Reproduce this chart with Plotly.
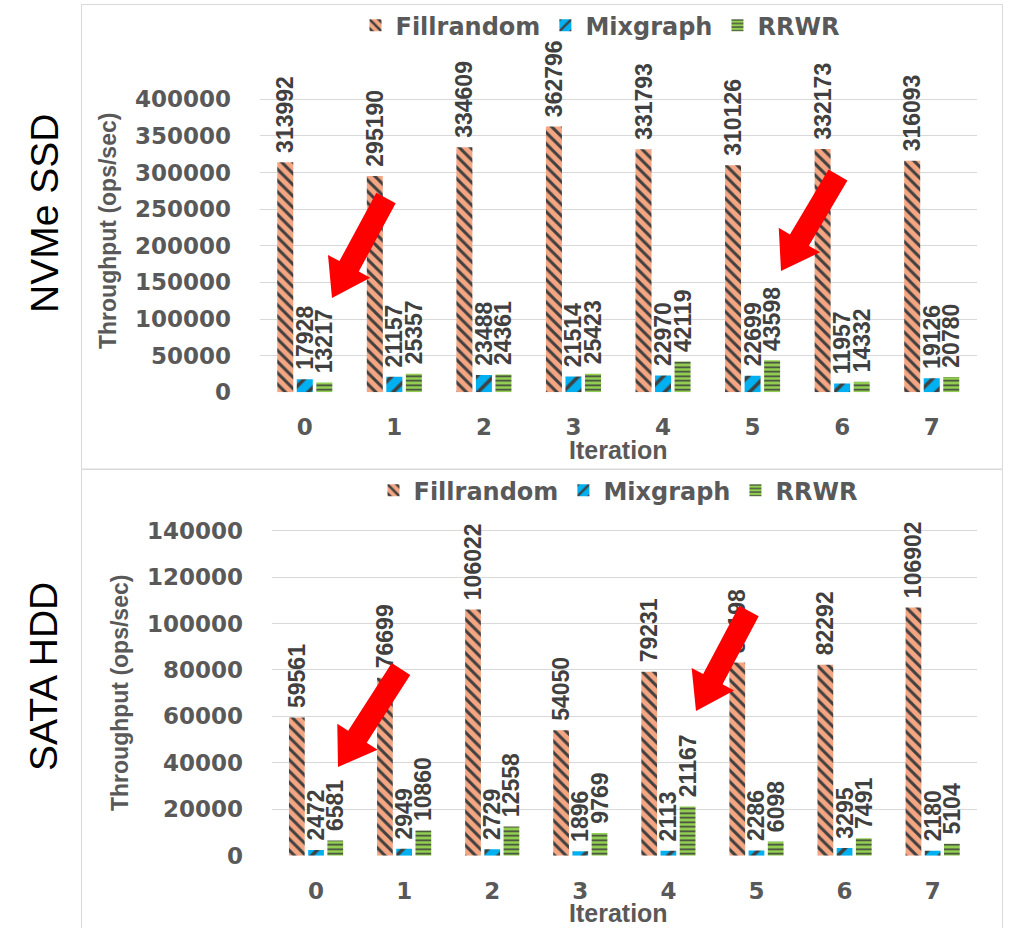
import math
import plotly.graph_objects as go

# ---------------- data ----------------
iterations = ["0", "1", "2", "3", "4", "5", "6", "7"]
series_names = ["Fillrandom", "Mixgraph", "RRWR"]

nvme_fillrandom = [313992, 295190, 334609, 362796, 331793, 310126, 332173, 316093]
nvme_mixgraph = [17928, 21157, 23488, 21514, 22970, 22699, 11957, 19126]
nvme_rrwr = [13217, 25357, 24361, 25423, 42119, 43598, 14332, 20780]

sata_fillrandom = [59561, 76699, 106022, 54050, 79231, 83198, 82292, 106902]
sata_mixgraph = [2472, 2949, 2729, 1896, 2113, 2286, 3295, 2180]
sata_rrwr = [6581, 10860, 12558, 9769, 21167, 6098, 7491, 5104]

nvme_ticks = [0, 50000, 100000, 150000, 200000, 250000, 300000, 350000, 400000]
sata_ticks = [0, 20000, 40000, 60000, 80000, 100000, 120000, 140000]

# ---------------- geometry helpers ----------------
W, H = 1010, 928


def px(x):
    return x / W


def py(y):
    return 1 - y / H


GRAY = "#595959"
LABEL = "#404040"
GRID = "#d9d9d9"

styles = {
    "Fillrandom": dict(color="#F4A582", shape="\\", size=8, solidity=0.38),
    "Mixgraph": dict(color="#00B0F0", shape="/", size=12, solidity=0.3),
    "RRWR": dict(color="#92D050", shape="-", size=4.5, solidity=0.35),
}

fig = go.Figure()


def add_series(name, values, xa, ya, legend):
    st = styles[name]
    fig.add_trace(go.Bar(
        name=name,
        x=iterations,
        y=values,
        text=[str(v) for v in values],
        xaxis=xa,
        yaxis=ya,
        legend=legend,
        marker=dict(
            color=st["color"],
            line=dict(width=0),
            pattern=dict(shape=st["shape"], fgcolor="#404040", bgcolor=st["color"],
                         size=st["size"], solidity=st["solidity"], fillmode="replace"),
        ),
        texttemplate="\u00a0%{text}",
        textposition="outside",
        textangle=-90,
        constraintext="none",
        cliponaxis=False,
        textfont=dict(family="Liberation Sans, Arial", size=23, color=LABEL, weight="bold"),
        hoverinfo="skip",
    ))


add_series("Fillrandom", nvme_fillrandom, "x", "y", "legend")
add_series("Mixgraph", nvme_mixgraph, "x", "y", "legend")
add_series("RRWR", nvme_rrwr, "x", "y", "legend")
add_series("Fillrandom", sata_fillrandom, "x2", "y2", "legend2")
add_series("Mixgraph", sata_mixgraph, "x2", "y2", "legend2")
add_series("RRWR", sata_rrwr, "x2", "y2", "legend2")

tickfont = dict(family="DejaVu Sans", size=23, color=GRAY, weight="bold")

# top panel axes
top_zero, top_400k, top_dom = 392.3, 99.3, 50
R1 = 400000 * (top_zero - top_dom) / (top_zero - top_400k)
# bottom panel axes
bot_zero, bot_140k, bot_dom = 855.7, 530.7, 505
R2 = 140000 * (bot_zero - bot_dom) / (bot_zero - bot_140k)

common_x = dict(type="category", showgrid=False, zeroline=False, showline=False,
                ticks="", tickfont=tickfont, ticklabelstandoff=19, automargin=False)
common_y = dict(showgrid=True, gridcolor=GRID, gridwidth=1, zeroline=False,
                showline=False, ticks="", tickfont=tickfont, ticklabelstandoff=28,
                automargin=False)

legend_font = dict(family="DejaVu Sans", size=24, color=GRAY, weight="bold")

fig.update_layout(
    width=W, height=H,
    margin=dict(l=0, r=0, t=0, b=0, pad=0, autoexpand=False),
    paper_bgcolor="white", plot_bgcolor="white",
    barmode="group", bargap=0.346, bargroupgap=0.18,
    xaxis=dict(domain=[px(260), px(976.5)], anchor="y", **common_x),
    yaxis=dict(domain=[py(top_zero), py(top_dom)], anchor="x", range=[0, R1],
               tickvals=nvme_ticks, ticktext=[str(v) for v in nvme_ticks], **common_y),
    xaxis2=dict(domain=[px(272), px(976.7)], anchor="y2", **common_x),
    yaxis2=dict(domain=[py(bot_zero), py(bot_dom)], anchor="x2", range=[0, R2],
                tickvals=sata_ticks, ticktext=[str(v) for v in sata_ticks], **common_y),
    legend=dict(orientation="h", x=px(600), y=py(25.7), xanchor="center", yanchor="middle",
                font=legend_font, bgcolor="rgba(0,0,0,0)", itemclick=False),
    legend2=dict(orientation="h", x=px(618), y=py(490.7), xanchor="center", yanchor="middle",
                 font=legend_font, bgcolor="rgba(0,0,0,0)", itemclick=False),
    showlegend=True,
    hovermode=False,
)

# panel borders
shapes = [
    dict(type="rect", xref="paper", yref="paper", x0=px(81.5), x1=px(1002.5), y0=py(469), y1=py(4.5),
         line=dict(color=GRID, width=1), fillcolor="rgba(0,0,0,0)", layer="below"),
    dict(type="rect", xref="paper", yref="paper", x0=px(81.5), x1=px(1002.5), y0=py(935), y1=py(469.5),
         line=dict(color=GRID, width=1), fillcolor="rgba(0,0,0,0)", layer="below"),
]


def arrow_path(tail, tip, shw=11, hhw=24, hlen=36):
    dx, dy = tip[0] - tail[0], tip[1] - tail[1]
    L = math.hypot(dx, dy)
    ux, uy = dx / L, dy / L
    nx, ny = -uy, ux
    bx, by = tip[0] - ux * hlen, tip[1] - uy * hlen
    pts = [
        (tail[0] + nx * shw, tail[1] + ny * shw),
        (bx + nx * shw, by + ny * shw),
        (bx + nx * hhw, by + ny * hhw),
        tip,
        (bx - nx * hhw, by - ny * hhw),
        (bx - nx * shw, by - ny * shw),
        (tail[0] - nx * shw, tail[1] - ny * shw),
    ]
    return "M " + " L ".join(f"{px(x):.5f},{py(y):.5f}" for x, y in pts) + " Z"


arrows = [
    ((386, 198), (332, 298)),
    ((838, 175), (781, 271)),
    ((401, 669), (338, 767)),
    ((749, 611), (696, 711)),
]
for tail, tip in arrows:
    shapes.append(dict(type="path", xref="paper", yref="paper", path=arrow_path(tail, tip),
                       fillcolor="#FF0000", line=dict(width=0), layer="above"))

fig.update_layout(shapes=shapes)

ann_title_font = dict(family="Liberation Sans, Arial", size=23, color=GRAY, weight="bold")
iter_font = dict(family="Liberation Sans, Arial", size=25, color=GRAY, weight="bold")
annotations = [
    dict(text="NVMe SSD", x=px(44), y=py(214), textangle=-90,
         font=dict(family="Liberation Sans, Arial", size=39, color="black")),
    dict(text="SATA HDD", x=px(43), y=py(677), textangle=-90,
         font=dict(family="Liberation Sans, Arial", size=39, color="black")),
    dict(text="Throughput (ops/sec)", x=px(108), y=py(231), textangle=-90, font=ann_title_font),
    dict(text="Throughput (ops/sec)", x=px(120), y=py(693), textangle=-90, font=ann_title_font),
    dict(text="Iteration", x=px(618), y=py(450), font=iter_font),
    dict(text="Iteration", x=px(618), y=py(913), font=iter_font),
]
for a in annotations:
    a.update(xref="paper", yref="paper", showarrow=False, xanchor="center", yanchor="middle")
fig.update_layout(annotations=annotations)

fig.write_html("out.html", config={"displayModeBar": False},
               post_script="document.body.style.margin='0px';document.body.style.overflow='hidden';")
